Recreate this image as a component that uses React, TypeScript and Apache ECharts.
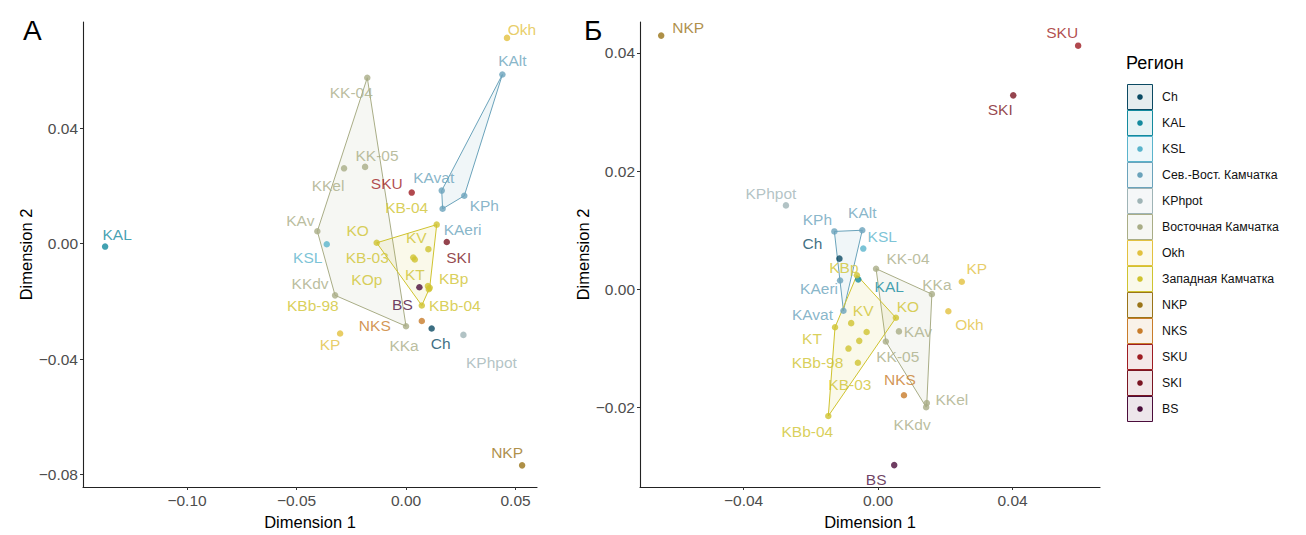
import React, { useEffect, useRef } from "react";
import * as echarts from "echarts";

// Regions (legend order) and their colours
const regions = [
  "Ch",
  "KAL",
  "KSL",
  "Сев.-Вост. Камчатка",
  "KPhpot",
  "Восточная Камчатка",
  "Okh",
  "Западная Камчатка",
  "NKP",
  "NKS",
  "SKU",
  "SKI",
  "BS",
];
const regionColors = [
  "#0b4a63",
  "#138a9e",
  "#5ab4cc",
  "#6aa3bb",
  "#9fb4b6",
  "#a9ad86",
  "#e2c13f",
  "#cfc32f",
  "#9a7418",
  "#c87c2a",
  "#9e1c22",
  "#7a1522",
  "#4b0d3b",
];

// Samples and the region index each belongs to
const samples = [
  "Ch", "KAL", "KSL", "KAlt", "KAvat", "KPh", "KAeri", "KPhpot",
  "KK-04", "KK-05", "KKel", "KAv", "KKdv", "KKa",
  "Okh", "KP",
  "KO", "KV", "KB-03", "KOp", "KT", "KBp", "KBb-04", "KBb-98", "KB-04",
  "NKP", "NKS", "SKU", "SKI", "BS",
];
const sampleRegion = [
  0, 1, 2, 3, 3, 3, 3, 4,
  5, 5, 5, 5, 5, 5,
  6, 6,
  7, 7, 7, 7, 7, 7, 7, 7, 7,
  8, 9, 10, 11, 12,
];

// Panel А: MDS coordinates
const dimA1 = [
  0.0117, -0.1374, -0.0362, 0.044, 0.0163, 0.0266, 0.0167, 0.0262,
  -0.0177, -0.0187, -0.0283, -0.0405, -0.0324, 0.0,
  0.0461, -0.0301,
  -0.0134, 0.0102, 0.0033, 0.004, 0.01, 0.0108, 0.0072, 0.0104, 0.014,
  0.053, 0.0072, 0.0026, 0.0186, 0.0061,
];
const dimA2 = [
  -0.0294, -0.001, -0.0002, 0.0586, 0.0184, 0.0166, 0.0121, -0.0316,
  0.0575, 0.0266, 0.0261, 0.0043, -0.0179, -0.0286,
  0.0713, -0.0311,
  0.0003, -0.0019, -0.0048, -0.0055, -0.0147, -0.0153, -0.0214, -0.0158, 0.0066,
  -0.0768, -0.0268, 0.0177, 0.0006, -0.0151,
];

// Panel Б: MDS coordinates
const dimB1 = [
  -0.0115, -0.0059, -0.0044, -0.0047, -0.0103, -0.013, -0.0113, -0.0274,
  -0.0006, 0.0023, 0.0145, 0.0062, 0.0143, 0.016,
  0.0209, 0.0249,
  0.0053, -0.008, -0.006, -0.0034, -0.0128, -0.0063, -0.0148, -0.0088, -0.0056,
  -0.0645, 0.0077, 0.0595, 0.0402, 0.0048,
];
const dimB2 = [
  0.0052, 0.0017, 0.0069, 0.01, -0.0036, 0.0098, 0.0015, 0.0142,
  0.0035, -0.0088, -0.0192, -0.0071, -0.0199, -0.0008,
  -0.0037, 0.0013,
  -0.0048, -0.0057, -0.0124, -0.0072, -0.0064, 0.0024, -0.0214, -0.01, -0.0087,
  0.0429, -0.0179, 0.0412, 0.0328, -0.0297,
];

// Tick values
const ticksAx = [-0.1, -0.05, 0, 0.05];
const ticksAy = [-0.08, -0.04, 0, 0.04];
const ticksBx = [-0.04, 0, 0.04];
const ticksBy = [-0.02, 0, 0.02, 0.04];

// Repelled label placement (pixel nudges from each point)
const labelNudgeA: Record<string, [number, number]> = {
  Ch: [9, 15], KAL: [12, -12], KSL: [-19, 13], KAlt: [10, -14], KAvat: [-8, -13],
  KPh: [20, 10], KAeri: [20, 21], KPhpot: [28, 28], "KK-04": [-16, 15],
  "KK-05": [12, -11], KKel: [-16, 17], KAv: [-17, -11], KKdv: [-25, -12],
  KKa: [-2, 19], Okh: [15, -8], KP: [-10, 11], KO: [-19, -12], KV: [-12, -12],
  "KB-03": [-46, 0], KOp: [-48, 20], KT: [-13, -12], KBp: [24, -9],
  "KBb-04": [33, 0], "KBb-98": [-116, 16], "KB-04": [-30, -17], NKP: [-15, -13],
  NKS: [-47, 4], SKU: [-25, -9], SKI: [12, 16], BS: [-17, 17],
};
const labelNudgeB: Record<string, [number, number]> = {
  Ch: [-27, -15], KAL: [31, 7], KSL: [19, -12], KAlt: [0, -18], KAvat: [-31, 4],
  KPh: [-17, -12], KAeri: [-21, 8], KPhpot: [-15, -12], "KK-04": [32, -10],
  "KK-05": [12, 15], KKel: [25, -3], KAv: [19, 0], KKdv: [-14, 17], KKa: [5, -10],
  Okh: [21, 13], KP: [15, -13], KO: [12, -11], KV: [12, -13], "KB-03": [-8, 22],
  KOp: [0, 0], KT: [-23, 11], KBp: [-13, -8], "KBb-04": [-21, 15],
  "KBb-98": [-31, 14], "KB-04": [0, 0], NKP: [27, -8], NKS: [-4, -16],
  SKU: [-16, -13], SKI: [-13, 14], BS: [-18, 14],
};
const unlabeledB = ["KOp", "KB-04"];

const FONT = "'Liberation Sans', Arial, sans-serif";

function fmt(v: number): string {
  const s = Math.abs(v).toFixed(2);
  return v < -1e-9 ? "\u2212" + s : s;
}

function hexAlpha(hex: string, a: number): string {
  const n = parseInt(hex.slice(1), 16);
  return `rgba(${(n >> 16) & 255},${(n >> 8) & 255},${n & 255},${a})`;
}

// Monotone-chain convex hull
function convexHull(pts: number[][]): number[][] {
  const p = pts.slice().sort((a, b) => a[0] - b[0] || a[1] - b[1]);
  if (p.length < 3) return p;
  const cross = (o: number[], a: number[], b: number[]) =>
    (a[0] - o[0]) * (b[1] - o[1]) - (a[1] - o[1]) * (b[0] - o[0]);
  const lower: number[][] = [];
  for (const q of p) {
    while (lower.length >= 2 && cross(lower[lower.length - 2], lower[lower.length - 1], q) <= 0) lower.pop();
    lower.push(q);
  }
  const upper: number[][] = [];
  for (let i = p.length - 1; i >= 0; i--) {
    const q = p[i];
    while (upper.length >= 2 && cross(upper[upper.length - 2], upper[upper.length - 1], q) <= 0) upper.pop();
    upper.push(q);
  }
  upper.pop();
  lower.pop();
  return lower.concat(upper);
}

function panelSeries(
  xs: number[],
  ys: number[],
  axisIndex: number,
  nudges: Record<string, [number, number]>,
  hidden: string[]
) {
  const hulls: { region: number; pts: number[][] }[] = [];
  regions.forEach((_, r) => {
    const pts: number[][] = [];
    samples.forEach((_, i) => {
      if (sampleRegion[i] === r) pts.push([xs[i], ys[i]]);
    });
    if (pts.length >= 3) hulls.push({ region: r, pts: convexHull(pts) });
  });

  const hullSeries = {
    type: "custom",
    xAxisIndex: axisIndex,
    yAxisIndex: axisIndex,
    silent: true,
    z: 1,
    data: hulls.map((h) => [h.pts[0][0], h.pts[0][1]]),
    renderItem: (params: any, api: any) => {
      const h = hulls[params.dataIndex];
      const c = regionColors[h.region];
      return {
        type: "polygon",
        shape: { points: h.pts.map((p) => api.coord(p)) },
        style: { fill: hexAlpha(c, 0.1), stroke: c, lineWidth: 1 },
      };
    },
  };

  const pointSeries = {
    type: "scatter",
    xAxisIndex: axisIndex,
    yAxisIndex: axisIndex,
    z: 3,
    symbolSize: 6.5,
    label: {
      show: true,
      position: "inside",
      formatter: "{b}",
      fontSize: 15.5,
      fontFamily: FONT,
      align: "center",
      verticalAlign: "middle",
    },
    data: samples.map((name, i) => {
      const c = regionColors[sampleRegion[i]];
      return {
        name,
        value: [xs[i], ys[i]],
        itemStyle: { color: c },
        label: {
          show: !hidden.includes(name),
          color: c,
          offset: nudges[name] || [0, 0],
        },
      };
    }),
  };
  return [hullSeries, pointSeries];
}

function valueAxis(
  gridIndex: number,
  min: number,
  max: number,
  ticks: number[],
  name: string,
  nameGap: number
) {
  return {
    type: "value",
    gridIndex,
    min,
    max,
    name,
    nameLocation: "middle",
    nameGap,
    nameTextStyle: { color: "#000", fontSize: 16.5, fontFamily: FONT },
    axisLine: { show: true, onZero: false, lineStyle: { color: "#222", width: 1.1 } },
    axisTick: {
      show: true,
      inside: false,
      length: 3,
      customValues: ticks,
      lineStyle: { color: "#333" },
    },
    axisLabel: {
      show: true,
      customValues: ticks,
      formatter: (v: number) => fmt(v),
      color: "#4d4d4d",
      fontSize: 15.5,
      fontFamily: FONT,
      margin: 5,
    },
    splitLine: { show: false },
  };
}

function legendGraphics() {
  const items: any[] = [
    {
      type: "text",
      left: 1126,
      top: 54,
      style: { text: "Регион", fill: "#000", font: `18px ${FONT}` },
    },
  ];
  regions.forEach((r, i) => {
    const cy = 97 + i * 26;
    const c = regionColors[i];
    items.push({
      type: "rect",
      shape: { x: 1127.5, y: cy - 12.5, width: 25, height: 25 },
      style: { fill: hexAlpha(c, 0.1), stroke: c, lineWidth: 1 },
    });
    items.push({
      type: "circle",
      shape: { cx: 1140, cy, r: 2.8 },
      style: { fill: c },
    });
    items.push({
      type: "text",
      x: 1162,
      y: cy,
      style: {
        text: r,
        fill: "#111",
        font: `12.3px ${FONT}`,
        verticalAlign: "middle",
      },
    });
  });
  return items;
}

export default function App() {
  const ref = useRef<HTMLDivElement>(null);

  useEffect(() => {
    if (!ref.current) return;
    const chart = echarts.init(ref.current, undefined, { renderer: "svg" });
    chart.setOption({
      animation: false,
      backgroundColor: "#fff",
      grid: [
        { left: 83, top: 22, width: 454, height: 470 },
        { left: 640, top: 22, width: 460, height: 468 },
      ],
      xAxis: [
        valueAxis(0, -0.1475, 0.0598, ticksAx, "Dimension 1", 26),
        valueAxis(1, -0.0708, 0.066, ticksBx, "Dimension 1", 26),
      ],
      yAxis: [
        valueAxis(0, -0.0843, 0.0768, ticksAy, "Dimension 2", 48),
        valueAxis(1, -0.0334, 0.0452, ticksBy, "Dimension 2", 46),
      ],
      series: [
        ...panelSeries(dimA1, dimA2, 0, labelNudgeA, []),
        ...panelSeries(dimB1, dimB2, 1, labelNudgeB, unlabeledB),
      ],
      graphic: [
        {
          type: "text",
          left: 23,
          top: 16,
          style: { text: "А", fill: "#000", font: `28px ${FONT}` },
        },
        {
          type: "text",
          left: 584,
          top: 16,
          style: { text: "Б", fill: "#000", font: `28px ${FONT}` },
        },
        ...legendGraphics(),
      ],
    });
    return () => chart.dispose();
  }, []);

  return (
    <div
      ref={ref}
      style={{ position: "absolute", left: 0, top: 0, width: 1306, height: 535 }}
    />
  );
}
